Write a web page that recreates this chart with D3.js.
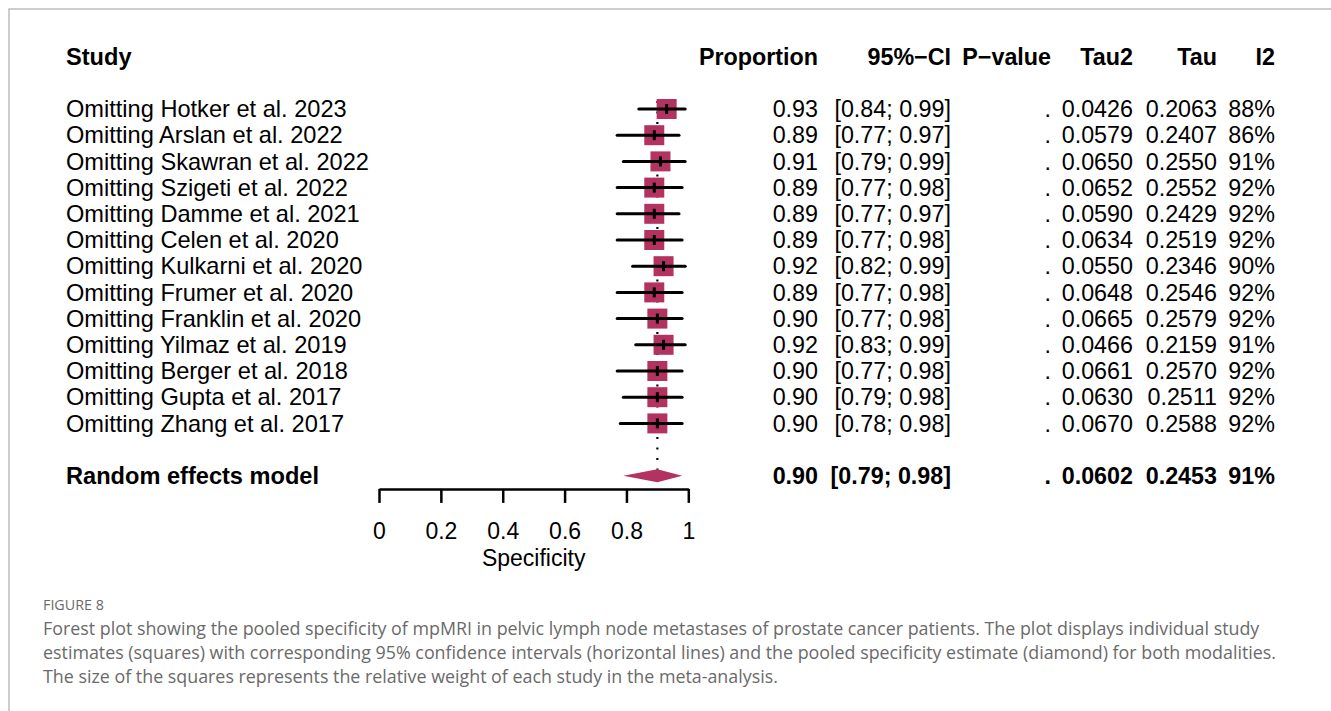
<!DOCTYPE html>
<html>
<head>
<meta charset="utf-8">
<script src="https://cdn.jsdelivr.net/npm/d3@7"></script>
<style>
  html, body { margin: 0; padding: 0; background: #fff; }
  svg { display: block; }
  .t { font-family: "Liberation Sans", Arial, Helvetica, sans-serif; fill: #000; }
  .cap { font-family: "Open Sans", "Noto Sans", sans-serif; fill: #6a6a6a; }
</style>
</head>
<body>
<svg id="chart" width="1331" height="711"></svg>
<script>
// ---------------- data ----------------
const studies = [
  "Omitting Hotker et al. 2023",
  "Omitting Arslan et al. 2022",
  "Omitting Skawran et al. 2022",
  "Omitting Szigeti et al. 2022",
  "Omitting Damme et al. 2021",
  "Omitting Celen et al. 2020",
  "Omitting Kulkarni et al. 2020",
  "Omitting Frumer et al. 2020",
  "Omitting Franklin et al. 2020",
  "Omitting Yilmaz et al. 2019",
  "Omitting Berger et al. 2018",
  "Omitting Gupta et al. 2017",
  "Omitting Zhang et al. 2017"
];
const proportion = [0.93, 0.89, 0.91, 0.89, 0.89, 0.89, 0.92, 0.89, 0.90, 0.92, 0.90, 0.90, 0.90];
const ciLower    = [0.84, 0.77, 0.79, 0.77, 0.77, 0.77, 0.82, 0.77, 0.77, 0.83, 0.77, 0.79, 0.78];
const ciUpper    = [0.99, 0.97, 0.99, 0.98, 0.97, 0.98, 0.99, 0.98, 0.98, 0.99, 0.98, 0.98, 0.98];
const pValue     = [".", ".", ".", ".", ".", ".", ".", ".", ".", ".", ".", ".", "."];
const tau2       = ["0.0426","0.0579","0.0650","0.0652","0.0590","0.0634","0.0550","0.0648","0.0665","0.0466","0.0661","0.0630","0.0670"];
const tau        = ["0.2063","0.2407","0.2550","0.2552","0.2429","0.2519","0.2346","0.2546","0.2579","0.2159","0.2570","0.2511","0.2588"];
const i2         = [88, 86, 91, 92, 92, 92, 90, 92, 92, 91, 92, 92, 92];

const pooledLabel = "Random effects model";
const pooled = { est: 0.90, lo: 0.79, hi: 0.98, p: ".", tau2: "0.0602", tau: "0.2453", i2: 91 };

const headers = ["Study", "Proportion", "95%\u2212CI", "P\u2212value", "Tau2", "Tau", "I2"];
const axisTicks = [0, 0.2, 0.4, 0.6, 0.8, 1];
const axisTitle = "Specificity";

const captionTitle = "FIGURE 8";
const captionLines = [
  "Forest plot showing the pooled specificity of mpMRI in pelvic lymph node metastases of prostate cancer patients. The plot displays individual study",
  "estimates (squares) with corresponding 95% confidence intervals (horizontal lines) and the pooled specificity estimate (diamond) for both modalities.",
  "The size of the squares represents the relative weight of each study in the meta-analysis."
];

// ---------------- layout ----------------
const svg = d3.select("#chart");
const col = "#b3325f";
const fs = 23.3;
const fsLab = 23.6;

// frame
svg.append("path").attr("d", "M9,711 L9,9 L1331,9")
  .attr("fill", "none").attr("stroke", "#bdbdbd").attr("stroke-width", 1.5);

const x = d3.scaleLinear().domain([0, 1]).range([379, 688.3]);
const y = d3.scaleLinear().domain([0, 1]).range([109, 135.2]); // row index -> y center
const rowPooled = 14;

// column right edges
const colX = { prop: 818, ci: 951, p: 1051, tau2: 1133, tau: 1217, i2: 1275 };
const fmt2 = d3.format(".2f");

// header
const hy = y(-2);
const hdr = svg.append("g").attr("class", "t").attr("font-weight", "bold").attr("font-size", fs);
hdr.append("text").attr("x", 66).attr("y", hy).attr("dy", "0.35em").attr("font-size", fsLab).text(headers[0]);
[colX.prop, colX.ci, colX.p, colX.tau2, colX.tau, colX.i2].forEach((cx, k) => {
  hdr.append("text").attr("x", cx).attr("y", hy).attr("dy", "0.35em")
    .attr("text-anchor", "end").text(headers[k + 1]);
});

// dotted reference line at pooled estimate
svg.append("line")
  .attr("x1", x(pooled.est)).attr("x2", x(pooled.est))
  .attr("y1", y(0) - 8).attr("y2", y(rowPooled) - 6)
  .attr("stroke", "#000").attr("stroke-width", 2.2)
  .attr("stroke-dasharray", "2,8.5");

// study rows
const rows = studies.map((s, i) => ({ s, i, est: proportion[i], lo: ciLower[i], hi: ciUpper[i],
  p: pValue[i], tau2: tau2[i], tau: tau[i], i2: i2[i] }));

const sq = 20;
const g = svg.append("g");
g.selectAll("rect.sq").data(rows).join("rect")
  .attr("x", d => x(d.est) - sq / 2).attr("y", d => y(d.i) - sq / 2)
  .attr("width", sq).attr("height", sq).attr("fill", col);
g.selectAll("line.ci").data(rows).join("line")
  .attr("x1", d => x(d.lo)).attr("x2", d => x(d.hi))
  .attr("y1", d => y(d.i)).attr("y2", d => y(d.i))
  .attr("stroke", "#000").attr("stroke-width", 3).attr("stroke-linecap", "round");
g.selectAll("line.pt").data(rows).join("line")
  .attr("x1", d => x(d.est)).attr("x2", d => x(d.est))
  .attr("y1", d => y(d.i) - 5).attr("y2", d => y(d.i) + 5)
  .attr("stroke", "#000").attr("stroke-width", 3);

const txt = svg.append("g").attr("class", "t").attr("font-size", fs);
rows.forEach(d => {
  const yy = y(d.i);
  txt.append("text").attr("x", 66).attr("y", yy).attr("dy", "0.35em").attr("font-size", fsLab).text(d.s);
  txt.append("text").attr("x", colX.prop).attr("y", yy).attr("dy", "0.35em").attr("text-anchor", "end").text(fmt2(d.est));
  txt.append("text").attr("x", colX.ci).attr("y", yy).attr("dy", "0.35em").attr("text-anchor", "end").text(`[${fmt2(d.lo)}; ${fmt2(d.hi)}]`);
  txt.append("text").attr("x", colX.p).attr("y", yy).attr("dy", "0.35em").attr("text-anchor", "end").text(d.p);
  txt.append("text").attr("x", colX.tau2).attr("y", yy).attr("dy", "0.35em").attr("text-anchor", "end").text(d.tau2);
  txt.append("text").attr("x", colX.tau).attr("y", yy).attr("dy", "0.35em").attr("text-anchor", "end").text(d.tau);
  txt.append("text").attr("x", colX.i2).attr("y", yy).attr("dy", "0.35em").attr("text-anchor", "end").text(d.i2 + "%");
});

// pooled row
const py = y(rowPooled);
svg.append("path")
  .attr("d", `M${x(pooled.lo)},${py} L${x(pooled.est)},${py - 6.5} L${x(pooled.hi)},${py} L${x(pooled.est)},${py + 6.5} Z`)
  .attr("fill", col);
const pt = svg.append("g").attr("class", "t").attr("font-size", fs).attr("font-weight", "bold");
pt.append("text").attr("x", 66).attr("y", py).attr("dy", "0.35em").attr("font-size", fsLab).text(pooledLabel);
pt.append("text").attr("x", colX.prop).attr("y", py).attr("dy", "0.35em").attr("text-anchor", "end").text(fmt2(pooled.est));
pt.append("text").attr("x", colX.ci).attr("y", py).attr("dy", "0.35em").attr("text-anchor", "end").text(`[${fmt2(pooled.lo)}; ${fmt2(pooled.hi)}]`);
pt.append("text").attr("x", colX.p).attr("y", py).attr("dy", "0.35em").attr("text-anchor", "end").text(pooled.p);
pt.append("text").attr("x", colX.tau2).attr("y", py).attr("dy", "0.35em").attr("text-anchor", "end").text(pooled.tau2);
pt.append("text").attr("x", colX.tau).attr("y", py).attr("dy", "0.35em").attr("text-anchor", "end").text(pooled.tau);
pt.append("text").attr("x", colX.i2).attr("y", py).attr("dy", "0.35em").attr("text-anchor", "end").text(pooled.i2 + "%");

// axis
const axY = y(14.5);
const ax = svg.append("g").attr("transform", `translate(0,${axY})`)
  .call(d3.axisBottom(x).tickValues(axisTicks).tickFormat(d3.format("")).tickSize(14).tickSizeOuter(0).tickPadding(20));
ax.select(".domain").attr("stroke", "#000").attr("stroke-width", 2.5);
ax.selectAll(".tick line").attr("stroke", "#000").attr("stroke-width", 2.5);
ax.selectAll(".tick text").attr("class", "t").attr("font-size", 23).attr("fill", "#000")
  .style("font-family", '"Liberation Sans", Arial, sans-serif');
svg.append("text").attr("class", "t").attr("font-size", 23)
  .attr("x", (x(0) + x(1)) / 2).attr("y", 558).attr("dy", "0.35em").attr("text-anchor", "middle").text(axisTitle);

// caption
svg.append("text").attr("class", "cap").attr("x", 43).attr("y", 610)
  .attr("font-size", 14.3).attr("fill", "#777").text(captionTitle);
captionLines.forEach((l, k) => {
  svg.append("text").attr("class", "cap").attr("x", 43).attr("y", 635 + k * 24)
    .attr("font-size", 17.85).text(l);
});
</script>
</body>
</html>
